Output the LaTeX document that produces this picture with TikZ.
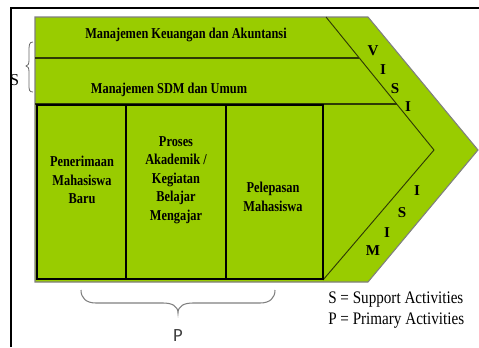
\documentclass[tikz,border=0pt]{standalone}
\usepackage{fontspec}
\setmainfont{Liberation Serif}
\newfontfamily\calibri{Carlito}
\usepackage{graphicx}
\definecolor{chain}{HTML}{99CC00}
\definecolor{rim}{HTML}{7F7F7F}
\definecolor{seam}{HTML}{2E3A05}
\newcommand{\nw}[1]{\scalebox{0.82}[1]{#1}}
\tikzset{
  act/.style={font=\fontsize{11.3}{13.9}\selectfont\bfseries, align=center, inner sep=0pt},
  letter/.style={font=\fontsize{11.3}{13.9}\selectfont\bfseries, anchor=base, inner sep=0pt},
  legend/.style={font=\fontsize{13.2}{15.8}\selectfont, anchor=base west, inner sep=0pt}
}

\begin{document}
\begin{tikzpicture}[x=0.75pt,y=-0.75pt]
  \useasboundingbox (0,0) rectangle (479,347);
  % frame
  \draw[line width=1.5pt] (11,347) -- (11,8) -- (479,8);

  % value chain
  \draw[rim,fill=chain,line width=0.8pt] (35,17) -- (368,17) -- (478,150) -- (368,282) -- (35,282) -- cycle;
  \draw[seam,line width=0.7pt] (326,17) -- (434,150) -- (323,280);
  \draw[seam,line width=0.9pt] (35,58) -- (359,58);
  \draw[seam,line width=0.9pt] (35,104) -- (397,104);
  \draw[line width=1.5pt] (37,105) rectangle (323,279);
  \draw[line width=0.9pt] (126,105) -- (126,279) (226,105) -- (226,279);

  \node[act,anchor=base] (keu) at (186,38) {\nw{Manajemen Keuangan dan Akuntansi}};
  \node[act,anchor=base] (sdm) at (169,93) {\nw{Manajemen SDM dan Umum}};
  \node[act] (terima) at (82,180) {\nw{Penerimaan}\\\nw{Mahasiswa}\\\nw{Baru}};
  \node[act] (proses) at (176,180) {\nw{Proses}\\\nw{Akademik /}\\\nw{Kegiatan}\\\nw{Belajar}\\\nw{Mengajar}};
  \node[act] (lepas) at (273,197) {\nw{Pelepasan}\\\nw{Mahasiswa}};

  % visi / misi
  \foreach \ch/\px/\py [count=\i] in {V/373/55, I/383/74, S/395/93, I/408/111}
    \node[letter] (visi\i) at (\px,\py) {\ch};
  \foreach \ch/\px/\py [count=\i] in {M/373/255, I/387/237, S/402/217, I/417/195}
    \node[letter] (misi\i) at (\px,\py) {\ch};

  % braces
  \draw[gray!80!black, line width=0.6pt] (33,42) .. controls (29,42) and (29,45) .. (29,52) -- (29,60) .. controls (29,64) and (28,66) .. (26,66) .. controls (28,66) and (29,68) .. (29,72) -- (29,84) .. controls (29,90) and (29,92) .. (33,92);
  \node[font=\fontsize{12.5}{15}\selectfont, anchor=base, inner sep=0pt] (labS) at (14.5,85) {S};

  \draw[gray, line width=0.8pt] (81,290) .. controls (81,298) and (86,303) .. (96,303) -- (163,303) .. controls (172,303) and (178,306) .. (178,313) .. controls (178,306) and (184,303) .. (193,303) -- (260,303) .. controls (270,303) and (275,298) .. (275,290);
  \node[font=\calibri\fontsize{14}{17}\selectfont, text=black!75, anchor=base, inner sep=0pt] (labP) at (178,341) {P};

  % legend
  \node[legend] (legS) at (328,303) {\scalebox{0.86}[1]{S = Support Activities}};
  \node[legend] (legP) at (328,324) {\scalebox{0.86}[1]{P = Primary Activities}};
\end{tikzpicture}
\end{document}
